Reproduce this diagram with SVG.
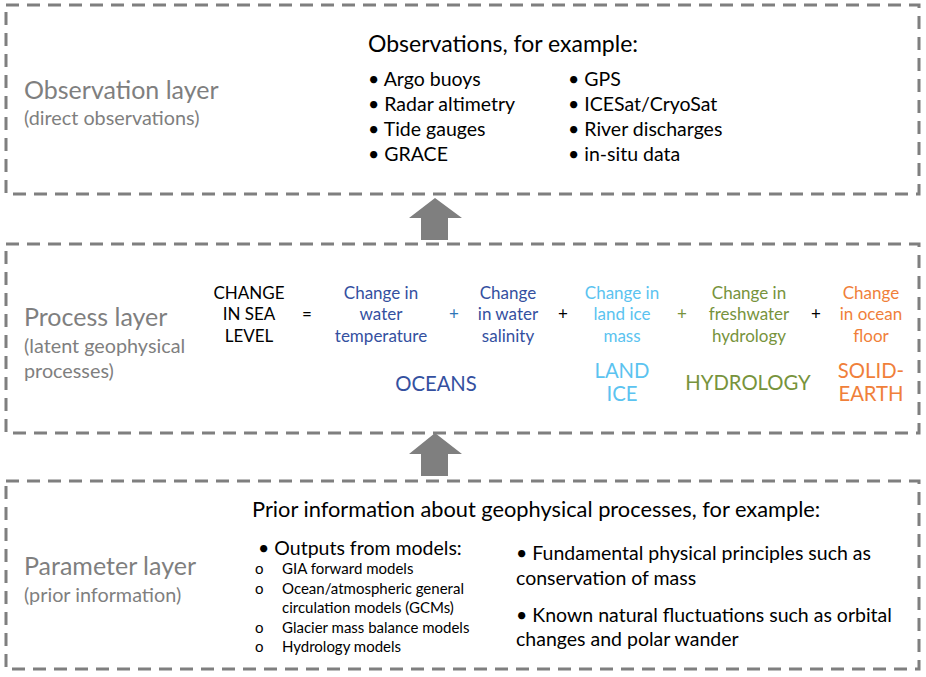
<svg xmlns="http://www.w3.org/2000/svg" width="926" height="677" viewBox="0 0 926 677">
<style>
text{font-family:Lato,"Open Sans","DejaVu Sans",sans-serif;}
.box{fill:none;stroke:#7f7f7f;stroke-width:3;stroke-dasharray:13 8;}
.arrow{fill:#7f7f7f;}
.title{font-size:25px;fill:#7f7f7f;}
.sub{font-size:19.8px;fill:#7f7f7f;}
.head{font-size:21.8px;fill:#000;}
.head2{font-size:23px;fill:#000;}
.item{font-size:19.5px;fill:#000;}
.small{font-size:15px;fill:#000;}
.eq{font-size:17px;text-anchor:middle;}
.big{font-size:20.3px;text-anchor:middle;}
.k{fill:#000;}
.oc{fill:#34509F;}
.pl{fill:#2E75B6;}
.li{fill:#5BC3F0;}
.hy{fill:#77933C;}
.se{fill:#F07F3A;}
</style>
<rect width="926" height="677" fill="#fff"/>
<g id="observation-layer">
<rect class="box" x="6" y="5" width="913" height="189"/>
<text class="title" x="24" y="99">Observation layer</text>
<text class="sub" x="24" y="125">(direct observations)</text>
<text class="head2" x="368" y="52">Observations, for example:</text>
<text class="item" x="368" y="86">• Argo buoys</text>
<text class="item" x="368" y="111">• Radar altimetry</text>
<text class="item" x="368" y="136">• Tide gauges</text>
<text class="item" x="368" y="161">• GRACE</text>
<text class="item" x="568" y="86">• GPS</text>
<text class="item" x="568" y="111">• ICESat/CryoSat</text>
<text class="item" x="568" y="136">• River discharges</text>
<text class="item" x="568" y="161">• in-situ data</text>
</g>
<g id="process-layer">
<rect class="box" x="6" y="244" width="913" height="189"/>
<text class="title" x="24" y="326">Process layer</text>
<text class="sub" x="24" y="353">(latent geophysical</text>
<text class="sub" x="24" y="378">processes)</text>
<text class="eq k" x="249" y="299">CHANGE</text>
<text class="eq k" x="249" y="320">IN SEA</text>
<text class="eq k" x="249" y="342">LEVEL</text>
<text class="eq k" x="307" y="320">=</text>
<text class="eq oc" x="381" y="299">Change in</text>
<text class="eq oc" x="381" y="320">water</text>
<text class="eq oc" x="381" y="342">temperature</text>
<text class="eq pl" x="454" y="320">+</text>
<text class="eq oc" x="508" y="299">Change</text>
<text class="eq oc" x="508" y="320">in water</text>
<text class="eq oc" x="508" y="342">salinity</text>
<text class="eq k" x="563" y="320">+</text>
<text class="eq li" x="622" y="299">Change in</text>
<text class="eq li" x="622" y="320">land ice</text>
<text class="eq li" x="622" y="342">mass</text>
<text class="eq hy" x="682" y="320">+</text>
<text class="eq hy" x="749" y="299">Change in</text>
<text class="eq hy" x="749" y="320">freshwater</text>
<text class="eq hy" x="749" y="342">hydrology</text>
<text class="eq k" x="816" y="320">+</text>
<text class="eq se" x="871" y="299">Change</text>
<text class="eq se" x="871" y="320">in ocean</text>
<text class="eq se" x="871" y="342">floor</text>
<text class="big oc" x="436" y="391">OCEANS</text>
<text class="big li" x="622" y="378">LAND</text>
<text class="big li" x="622" y="401">ICE</text>
<text class="big hy" x="748" y="390">HYDROLOGY</text>
<text class="big se" x="871" y="378">SOLID-</text>
<text class="big se" x="871" y="401">EARTH</text>
</g>
<g id="parameter-layer">
<rect class="box" x="6" y="481" width="913" height="188"/>
<text class="title" x="24" y="575">Parameter layer</text>
<text class="sub" x="24" y="602">(prior information)</text>
<text class="head" x="252" y="517">Prior information about geophysical processes, for example:</text>
<text class="item" x="258" y="555">• Outputs from models:</text>
<text class="small" x="255" y="574">o</text><text class="small" x="282" y="574">GIA forward models</text>
<text class="small" x="255" y="594">o</text><text class="small" x="282" y="594">Ocean/atmospheric general</text>
<text class="small" x="282" y="613">circulation models (GCMs)</text>
<text class="small" x="255" y="633">o</text><text class="small" x="282" y="633">Glacier mass balance models</text>
<text class="small" x="255" y="652">o</text><text class="small" x="282" y="652">Hydrology models</text>
<text class="item" x="516" y="560">• Fundamental physical principles such as</text>
<text class="item" x="516" y="585">conservation of mass</text>
<text class="item" x="516" y="622">• Known natural fluctuations such as orbital</text>
<text class="item" x="516" y="646">changes and polar wander</text>
</g>
<g id="connectors">
<polygon class="arrow" points="435,198 462,218 448,218 448,240 421,240 421,218 409,218"/>
<polygon class="arrow" points="435,433 462,454 448,454 448,476 421,476 421,454 409,454"/>
</g>
</svg>
